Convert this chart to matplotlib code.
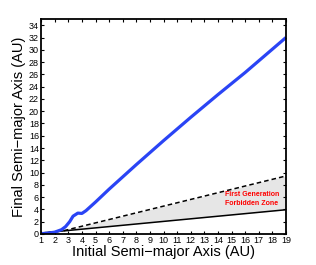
import matplotlib
matplotlib.use('Agg')
import matplotlib.pyplot as plt
import numpy as np

plt.rcParams['font.family'] = ['Liberation Sans', 'DejaVu Sans']

# final vs initial semi-major axis
a_init = [1, 1.5, 2, 2.5, 2.8, 3.1, 3.35, 3.7, 4.0, 4.3, 5, 6, 8, 10, 12, 14, 16, 19]
a_final = [0.05, 0.15, 0.3, 0.7, 1.2, 2.0, 2.9, 3.4, 3.35, 3.8, 5.2, 7.3, 11.3,
           15.2, 19.0, 22.7, 26.3, 32.0]

# forbidden zone boundaries
zone_x = [1, 2.6, 19]
zone_upper = [0.15, 0.5, 9.45]
zone_lower = [0.15, 0.49, 3.95]

xticks = list(range(1, 20))
yticks = list(range(0, 35, 2))

fig = plt.figure(figsize=(3.16, 2.65), dpi=100)
ax = fig.add_axes([0.130, 0.117, 0.775, 0.811])

ax.fill_between(zone_x, zone_lower, zone_upper, color='#e6e6e6', lw=0)
ax.plot(zone_x, zone_upper, '--', color='black', lw=1.1, dashes=(3, 2))
ax.plot(zone_x, zone_lower, '-', color='black', lw=1.1)
ax.plot(a_init, a_final, color='#2a44f5', lw=2.3, solid_capstyle='butt')

ax.text(16.5, 5.7, 'First Generation\nForbidden Zone', color='red', fontsize=5,
        fontweight='bold', ha='center', va='center', linespacing=1.4)

ax.set_xlim(1, 19)
ax.set_ylim(0, 35)
ax.set_xticks(xticks)
ax.set_yticks(yticks)
ax.tick_params(direction='in', top=True, right=True, labelsize=6.5,
               length=2.5, width=0.8, pad=1.5)
for s in ax.spines.values():
    s.set_linewidth(1.3)

ax.set_xlabel('Initial Semi\u2212major Axis (AU)', fontsize=10.5, labelpad=0)
ax.set_ylabel('Final Semi\u2212major Axis (AU)', fontsize=10.5, labelpad=2)

fig.savefig('out.png', dpi=100)
